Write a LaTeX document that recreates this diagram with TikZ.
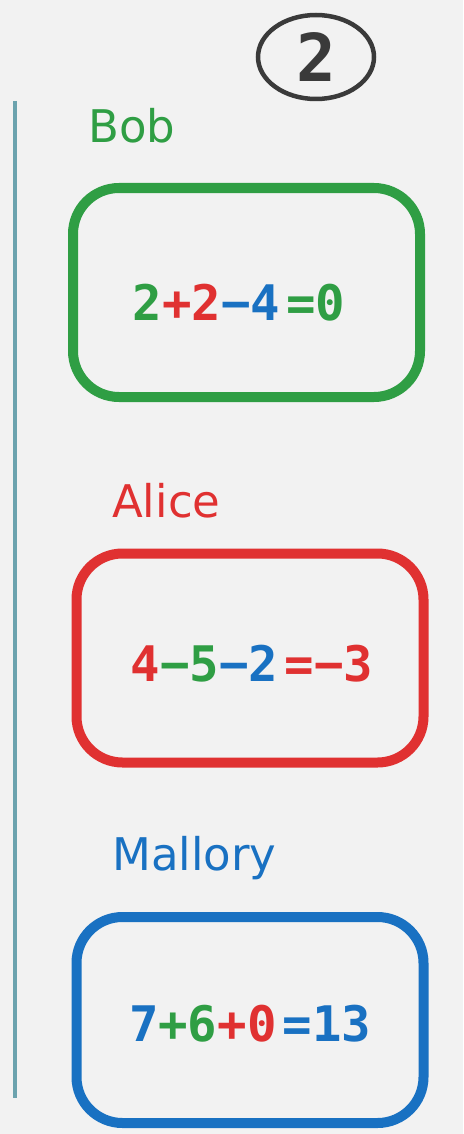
\documentclass[tikz,border=0pt]{standalone}
\usepackage{fontspec}
\usetikzlibrary{shapes.geometric}
\setmainfont{DejaVu Sans}
\newfontfamily\eqfont{DejaVu Sans Mono}
\definecolor{pgreen}{HTML}{2F9E44}
\definecolor{pred}{HTML}{E03131}
\definecolor{pblue}{HTML}{1971C2}
\definecolor{pdark}{HTML}{3A3A3A}
\definecolor{pline}{HTML}{6CA3AE}
\definecolor{pbg}{HTML}{F2F2F2}
\begin{document}
\begin{tikzpicture}[x=1pt, y=-1pt,
  eqbox/.style={rectangle, rounded corners=46pt, line width=10pt, minimum width=347pt, minimum height=209pt, inner sep=0pt},
  eqn/.style={anchor=base, inner sep=0pt, font={\eqfont\bfseries\fontsize{49}{49}\selectfont}},
  who/.style={anchor=base west, inner sep=0pt, font={\fontsize{45}{45}\selectfont}}
]
\fill[pbg] (0,0) rectangle (463,1134);
\useasboundingbox (0,0) rectangle (463,1134);
\draw[pline, line width=4pt] (15,101) -- (15,1098);
\node[ellipse, draw=pdark, line width=4.5pt, minimum width=116pt, minimum height=84pt, inner sep=0pt, text=pdark, font={\eqfont\bfseries\fontsize{66}{66}\selectfont}] (step2) at (316,57) {2};
\node[who, text=pgreen] (bob) at (88,143) {Bob};
\node[eqbox, draw=pgreen] (bobbox) at (246.5,292.5) {};
\node[eqn] (bobsum) at (239,320) {\textcolor{pgreen}{2}\textcolor{pred}{+2}\textcolor{pblue}{−4}\hspace{6pt}\textcolor{pgreen}{=0}};
\node[who, text=pred] (alice) at (112,517) {Alice};
\node[eqbox, draw=pred] (alicebox) at (250,658) {};
\node[eqn] (alicesum) at (252,681) {\textcolor{pred}{4}\textcolor{pgreen}{−5}\textcolor{pblue}{−2}\hspace{6pt}\textcolor{pred}{=−3}};
\node[who, text=pblue] (mallory) at (112,870) {Mallory};
\node[eqbox, draw=pblue, minimum height=206pt] (mallorybox) at (250,1020) {};
\node[eqn] (mallorysum) at (250,1041) {\textcolor{pblue}{7}\textcolor{pgreen}{+6}\textcolor{pred}{+0}\hspace{6pt}\textcolor{pblue}{=13}};
\end{tikzpicture}
\end{document}
